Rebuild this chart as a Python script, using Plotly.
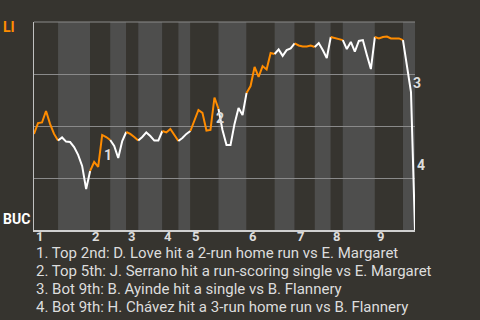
import plotly.graph_objects as go

# ---- data ----
away_team = "LI"
home_team = "BUC"
innings = ["1", "2", "3", "4", "5", "6", "7", "8", "9"]
# plate appearances per half inning (top 1, bot 1, top 2, ...)
half_inning_pas = [6, 8, 5, 4, 3, 6, 4, 3, 7, 7, 7, 5, 5, 4, 3, 8, 7, 3]
# LI win probability after each plate appearance (first value = pre-game)
win_prob = [
    0.462, 0.514, 0.517, 0.572, 0.510, 0.462, 0.430,
    0.445, 0.425, 0.423, 0.399, 0.361, 0.308, 0.197, 0.284,
    0.327, 0.303, 0.457, 0.447, 0.433,
    0.404, 0.346, 0.428, 0.471,
    0.462, 0.447, 0.430,
    0.447, 0.469, 0.452, 0.430, 0.430, 0.476,
    0.469, 0.486, 0.457, 0.428,
    0.442, 0.462, 0.476,
    0.524, 0.577, 0.563, 0.478, 0.481, 0.637, 0.582,
    0.481, 0.409, 0.409, 0.510, 0.587, 0.553, 0.659,
    0.692, 0.784, 0.736, 0.788, 0.772, 0.851, 0.846,
    0.868, 0.837, 0.865, 0.873, 0.897,
    0.887, 0.882, 0.882, 0.887, 0.880,
    0.899, 0.865, 0.827, 0.928,
    0.923, 0.921, 0.913,
    0.870, 0.904, 0.858, 0.909, 0.913, 0.841, 0.774, 0.928,
    0.921, 0.928, 0.930, 0.921, 0.921, 0.921, 0.913,
    0.793, 0.663, 0.000,
]
event_pa = [17, 45, 94, 95]
event_labels = ["1", "2", "3", "4"]
event_text = [
    "1. Top 2nd: D. Love hit a 2-run home run vs E. Margaret",
    "2. Top 5th: J. Serrano hit a run-scoring single vs E. Margaret",
    "3. Bot 9th: B. Ayinde hit a single vs B. Flannery",
    "4. Bot 9th: H. Chávez hit a 3-run home run vs B. Flannery",
]

# ---- style ----
BG = "#36342f"
DARK_BAND = "#36342f"
LIGHT_BAND = "#4e4e4d"
ORANGE = "#ff8c00"
WHITE = "#ffffff"
TEXT = "#dddddd"
GRID = "#8a8a8a"
FONT = "Roboto"

bounds = [0]
for n in half_inning_pas:
    bounds.append(bounds[-1] + n)
total = bounds[-1]

fig = go.Figure()

shapes = []
for h in range(len(half_inning_pas)):
    shapes.append(dict(type="rect", xref="x", yref="y", layer="below",
                       x0=bounds[h], x1=bounds[h + 1], y0=0, y1=1,
                       fillcolor=DARK_BAND if h % 2 == 0 else LIGHT_BAND,
                       line=dict(width=0)))
shapes.append(dict(type="line", xref="paper", yref="paper", layer="above",
                   x0=0, x1=1, y0=1, y1=1, line=dict(color=GRID, width=1)))

for h in range(len(half_inning_pas)):
    s, e = bounds[h], bounds[h + 1]
    fig.add_trace(go.Scatter(
        x=list(range(s, e + 1)), y=win_prob[s:e + 1], mode="lines",
        line=dict(color=ORANGE if h % 2 == 0 else WHITE, width=2),
        hoverinfo="skip", showlegend=False))

annotations = []
for idx, lab in zip(event_pa, event_labels):
    mid = (win_prob[idx - 1] + win_prob[idx]) / 2
    annotations.append(dict(x=idx, y=mid, xref="x", yref="y", text="<b>%s</b>" % lab,
                            showarrow=False, xanchor="left", yanchor="middle", yshift=-4,
                            font=dict(family=FONT, size=14, color=TEXT)))

for k, lab in enumerate(innings):
    annotations.append(dict(x=bounds[2 * k], y=0, xref="x", yref="paper",
                            text="<b>%s</b>" % lab, showarrow=False,
                            xanchor="left", yanchor="middle", yshift=-6,
                            font=dict(family=FONT, size=13, color=TEXT)))

for k, line in enumerate(event_text):
    annotations.append(dict(x=0, y=0, xref="paper", yref="paper", text=line,
                            showarrow=False, xanchor="left", yanchor="middle",
                            yshift=-23 - 18 * k,
                            font=dict(family=FONT, size=15, color=TEXT)))

annotations.append(dict(x=0, y=1, xref="paper", yref="paper", text="<b>%s</b>" % away_team,
                        showarrow=False, xanchor="left", yanchor="middle", xshift=-33, yshift=-5,
                        font=dict(family=FONT, size=14, color=ORANGE)))
annotations.append(dict(x=0, y=0, xref="paper", yref="paper", text="<b>%s</b>" % home_team,
                        showarrow=False, xanchor="left", yanchor="middle", xshift=-33, yshift=11,
                        font=dict(family=FONT, size=14, color=WHITE)))

fig.update_layout(
    width=480, height=320,
    margin=dict(l=34, r=65, t=22, b=90, pad=0),
    paper_bgcolor=BG, plot_bgcolor=BG,
    shapes=shapes, annotations=annotations,
    xaxis=dict(range=[0, total], showgrid=False, zeroline=False, showticklabels=False,
               ticks="", showline=True, linecolor="#d0d0d0", linewidth=1.5, fixedrange=True),
    yaxis=dict(range=[0, 1], tickvals=[0.25, 0.5, 0.75, 1.0], showgrid=True,
               gridcolor=GRID, gridwidth=1, zeroline=False, showticklabels=False,
               ticks="", showline=True, linecolor="#c0c0c0", linewidth=1, fixedrange=True),
    showlegend=False,
)

fig.write_html("out.html", config={"displayModeBar": False})
